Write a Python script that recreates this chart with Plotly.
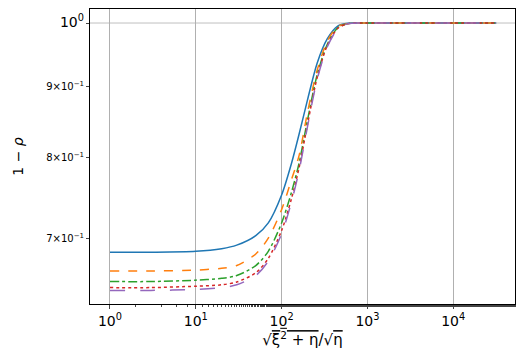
import numpy as np
import plotly.graph_objects as go

# x positions (sqrt(xi^2+eta)/sqrt(eta))
x_vals = [1, 3, 10, 20, 30, 50, 70, 100, 130, 160, 200, 260, 340, 450, 600, 1000, 3000, 10000, 31623]

# 1 - rho for each curve
y_blue = [0.684, 0.684, 0.685, 0.688, 0.692, 0.703, 0.718, 0.752, 0.792, 0.832, 0.880, 0.936, 0.974, 0.995, 0.9995, 1.0, 1.0, 1.0, 1.0]
y_orange = [0.663, 0.663, 0.664, 0.666, 0.669, 0.682, 0.700, 0.734, 0.771, 0.803, 0.862, 0.925, 0.970, 0.994, 0.999, 1.0, 1.0, 1.0, 1.0]
y_green = [0.6515, 0.6515, 0.653, 0.655, 0.658, 0.669, 0.685, 0.718, 0.755, 0.793, 0.851, 0.918, 0.965, 0.992, 0.999, 1.0, 1.0, 1.0, 1.0]
y_red = [0.645, 0.645, 0.6465, 0.648, 0.651, 0.661, 0.677, 0.709, 0.747, 0.787, 0.845, 0.914, 0.963, 0.991, 0.999, 1.0, 1.0, 1.0, 1.0]
y_purple = [0.642, 0.642, 0.643, 0.645, 0.648, 0.658, 0.674, 0.705, 0.743, 0.783, 0.842, 0.911, 0.961, 0.990, 0.999, 1.0, 1.0, 1.0, 1.0]

x_tickvals = [1, 10, 100, 1000, 10000]
x_ticktext = ["10<sup>0</sup>", "10<sup>1</sup>", "10<sup>2</sup>", "10<sup>3</sup>", "10<sup>4</sup>"]
y_tickvals = [0.7, 0.8, 0.9, 1.0]
y_ticktext = ["7×10<sup>−1</sup>", "8×10<sup>−1</sup>", "9×10<sup>−1</sup>",
              "<span style='font-size:14px'>10<sup>0</sup></span>"]

series = [
    (y_blue, "#1f77b4", "solid"),
    (y_orange, "#ff7f0e", "dash"),
    (y_green, "#2ca02c", "dashdot"),
    (y_red, "#d62728", "dot"),
    (y_purple, "#9467bd", "longdash"),
]

fig = go.Figure()
for ys, color, dash in series:
    fig.add_trace(
        go.Scatter(
            x=x_vals,
            y=ys,
            mode="lines",
            line=dict(color=color, dash=dash, width=1.5, shape="spline", smoothing=0.8),
            showlegend=False,
        )
    )

# horizontal grid only at the major tick 10^0
fig.add_shape(type="line", xref="paper", x0=0, x1=1, yref="y", y0=1.0, y1=1.0,
              line=dict(color="#b0b0b0", width=0.8), layer="below")

fig.update_xaxes(
    type="log",
    range=[-0.233, 4.72],
    tickvals=x_tickvals,
    ticktext=x_ticktext,
    tickfont=dict(size=14, color="black"),
    ticks="outside",
    ticklen=4,
    showgrid=True,
    gridcolor="#b0b0b0",
    gridwidth=0.8,
    minor=dict(ticks="outside", ticklen=2, showgrid=False),
    showline=True,
    linecolor="black",
    linewidth=1,
    mirror=True,
    zeroline=False,
    automargin=False,
    title=dict(
        text="√<span style='text-decoration:overline'>ξ<sup>2</sup> + η</span>/√<span style='text-decoration:overline'>η</span>",
        font=dict(size=15, color="black"),
        standoff=6,
    ),
)
fig.update_yaxes(
    type="log",
    range=[np.log10(0.6277), 0.0101],
    tickvals=y_tickvals,
    ticktext=y_ticktext,
    tickfont=dict(size=10, color="black"),
    ticks="outside",
    ticklen=3,
    showgrid=False,
    showline=True,
    linecolor="black",
    linewidth=1,
    mirror=True,
    zeroline=False,
    automargin=False,
    title=dict(text="1 − <i>ρ</i>", font=dict(size=14, color="black"), standoff=19),
)

# page body adds an 8px offset, so the figure is sized to fit the window
fig.update_layout(
    width=519,
    height=351,
    margin=dict(l=82, r=12, t=1, b=55),
    paper_bgcolor="white",
    plot_bgcolor="white",
    font=dict(family="DejaVu Sans", color="black"),
)

fig.write_html("out.html")
